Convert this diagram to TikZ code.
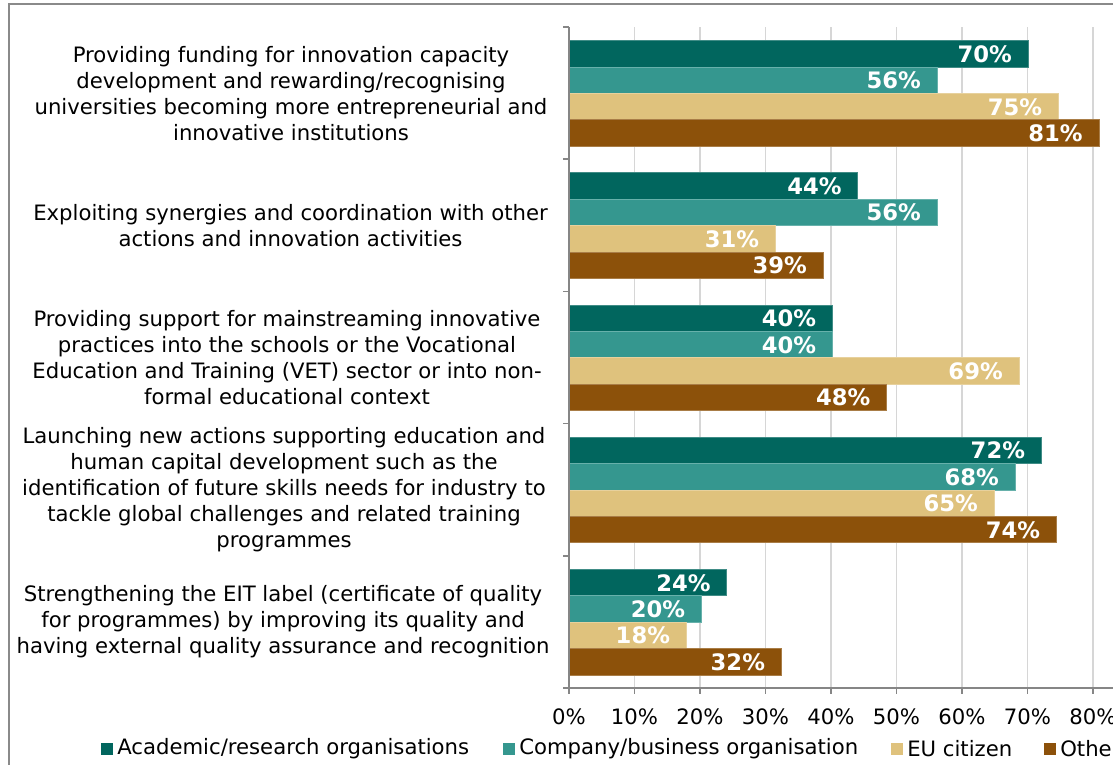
\documentclass[tikz,border=0pt]{standalone}
\usepackage{fontspec}
\setmainfont{DejaVu Sans}
\definecolor{cA}{HTML}{01665E}
\definecolor{cB}{HTML}{35978F}
\definecolor{cC}{HTML}{DFC27D}
\definecolor{cD}{HTML}{8C510A}
\definecolor{axisgray}{HTML}{868686}
\definecolor{gridgray}{HTML}{D6D6D6}
\definecolor{framegray}{HTML}{8A8A8A}
\newcommand{\hbarrow}[5]{%
  \fill[#5, draw=#5!75!white, line width=0.6] (569,#2) rectangle ({569+6.55*#3},{#2+26.4});
  \node[vlabel] (#1) at ({569+6.55*#3-16},{#2+13.4}) {#4\%};
}
\begin{document}
\begin{tikzpicture}[x=0.75pt,y=-0.75pt,
  cat/.style={align=center, inner sep=0pt, font=\fontsize{15.9}{19.5}\selectfont},
  vlabel/.style={anchor=east, inner sep=0pt, text=white, font=\fontsize{17}{19}\selectfont\bfseries},
  ticklab/.style={inner sep=0pt, font=\fontsize{15.9}{19}\selectfont},
  legtxt/.style={anchor=west, inner sep=0pt, font=\fontsize{15.9}{19}\selectfont},
  legsq/.style={minimum size=9pt, inner sep=0pt, draw=none},
  gridln/.style={gridgray, line width=1.2pt},
  axisln/.style={axisgray, line width=1.2pt},
  framel/.style={framegray, line width=2pt}]
\useasboundingbox (0,0) rectangle (1113,764);
\clip (0,0) rectangle (1113,764);
% frame
\draw[framel] (9,770) -- (9,4) -- (1120,4);
% gridlines
\foreach \i in {1,...,8} \draw[gridln] ({569+65.5*\i},27) -- ({569+65.5*\i},688);
% bars
\hbarrow{a1}{40.6}{70.1}{70}{cA}
\hbarrow{b1}{67.0}{56.2}{56}{cB}
\hbarrow{c1}{93.4}{74.7}{75}{cC}
\hbarrow{d1}{119.8}{80.9}{81}{cD}
\hbarrow{a2}{172.8}{44.1}{44}{cA}
\hbarrow{b2}{199.2}{56.2}{56}{cB}
\hbarrow{c2}{225.6}{31.5}{31}{cC}
\hbarrow{d2}{252.0}{38.8}{39}{cD}
\hbarrow{a3}{305.0}{40.2}{40}{cA}
\hbarrow{b3}{331.4}{40.2}{40}{cB}
\hbarrow{c3}{357.8}{68.7}{69}{cC}
\hbarrow{d3}{384.2}{48.5}{48}{cD}
\hbarrow{a4}{437.2}{72.1}{72}{cA}
\hbarrow{b4}{463.6}{68.1}{68}{cB}
\hbarrow{c4}{490.0}{64.9}{65}{cC}
\hbarrow{d4}{516.4}{74.4}{74}{cD}
\hbarrow{a5}{569.4}{24.1}{24}{cA}
\hbarrow{b5}{595.8}{20.2}{20}{cB}
\hbarrow{c5}{622.2}{17.9}{18}{cC}
\hbarrow{d5}{648.6}{32.4}{32}{cD}
% axes
\draw[axisln] (569,27) -- (569,688) -- (1120,688);
\foreach \y in {27,159.2,291.4,423.6,555.8,688} \draw[axisln] (563,\y) -- (569,\y);
\foreach \i in {0,...,8} \draw[axisln] ({569+65.5*\i},688) -- ({569+65.5*\i},694);
% tick labels
\foreach \i in {0,...,8} \node[ticklab] (t\i) at ({569+65.5*\i},717) {\the\numexpr\i*10\relax\%};
% category labels
\node[cat] (k1) at (291,94) {Providing funding for innovation capacity\\development and rewarding/recognising\\universities becoming more entrepreneurial and\\innovative institutions};
\node[cat] (k2) at (290.5,225.6) {Exploiting synergies and coordination with other\\actions and innovation activities};
\node[cat] (k3) at (287,357.8) {Providing support for mainstreaming innovative\\practices into the schools or the Vocational\\Education and Training (VET) sector or into non-\\formal educational context};
\node[cat] (k4) at (284,490) {Launching new actions supporting education and\\human capital development such as the\\identification of future skills needs for industry to\\tackle global challenges and related training\\programmes};
\node[cat] (k5) at (283,622) {Strengthening the EIT label (certificate of quality\\for programmes) by improving its quality and\\having external quality assurance and recognition};
% legend
\node[legsq, fill=cA] (q1) at (107,748.5) {};
\node[legtxt] (l1) at (117,749) {Academic/research organisations};
\node[legsq, fill=cB] (q2) at (509,748.5) {};
\node[legtxt] (l2) at (519,749) {Company/business organisation};
\node[legsq, fill=cC] (q3) at (897,748.5) {};
\node[legtxt] (l3) at (907,749) {EU citizen};
\node[legsq, fill=cD] (q4) at (1050,748.5) {};
\node[legtxt] (l4) at (1060,749) {Other};
\end{tikzpicture}
\end{document}
